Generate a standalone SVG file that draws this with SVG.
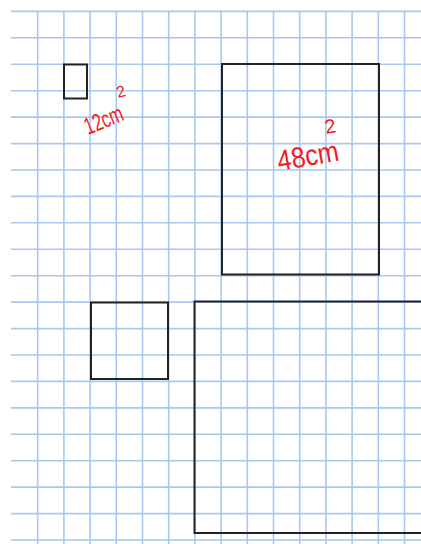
<svg xmlns="http://www.w3.org/2000/svg" width="421" height="544" viewBox="0 0 421 544">
<style>
.grid{stroke:#a9c8ee;stroke-width:1.6;fill:none}
.box{fill:none;stroke:#222;stroke-width:2}
.lbl{fill:#ee1c25;font-family:"Liberation Sans",Arial,sans-serif}
</style>
<rect width="421" height="544" fill="#fff"/>
<g id="grid" class="grid">
<path d="M37.7 11V544M63.9 11V544M90.1 11V544M116.3 11V544M142.5 11V544M168.7 11V544M194.9 11V544M221.1 11V544M247.3 11V544M273.5 11V544M299.7 11V544M325.9 11V544M352.1 11V544M378.3 11V544M404.5 11V544"/>
<path d="M11 11.4H421M11 37.8H421M11 64.3H421M11 90.7H421M11 117.1H421M11 143.6H421M11 170H421M11 196.4H421M11 222.8H421M11 249.3H421M11 275.7H421M11 302.1H421M11 328.6H421M11 355H421M11 381.4H421M11 407.9H421M11 434.3H421M11 460.7H421M11 487.1H421M11 513.6H421M11 540H421"/>
</g>
<g id="small-rect"><rect class="box" x="64" y="64.5" width="23" height="34"/></g>
<g id="big-rect"><rect class="box" x="222" y="64" width="157" height="210.5"/></g>
<g id="square"><rect class="box" x="91" y="302.5" width="77" height="76.5"/></g>
<g id="large-rect"><rect class="box" x="194.5" y="301.5" width="240" height="231.5"/></g>
<g id="label-12">
<text class="lbl" font-size="24" textLength="40" lengthAdjust="spacingAndGlyphs" transform="translate(88 135) rotate(-22)">12cm</text>
<text class="lbl" font-size="16" transform="translate(118 98) rotate(-15)">2</text>
</g>
<g id="label-48">
<text class="lbl" font-size="29" textLength="62" lengthAdjust="spacingAndGlyphs" transform="translate(279 171) rotate(-10)">48cm</text>
<text class="lbl" font-size="20" transform="translate(326 134) rotate(-10)">2</text>
</g>
</svg>
